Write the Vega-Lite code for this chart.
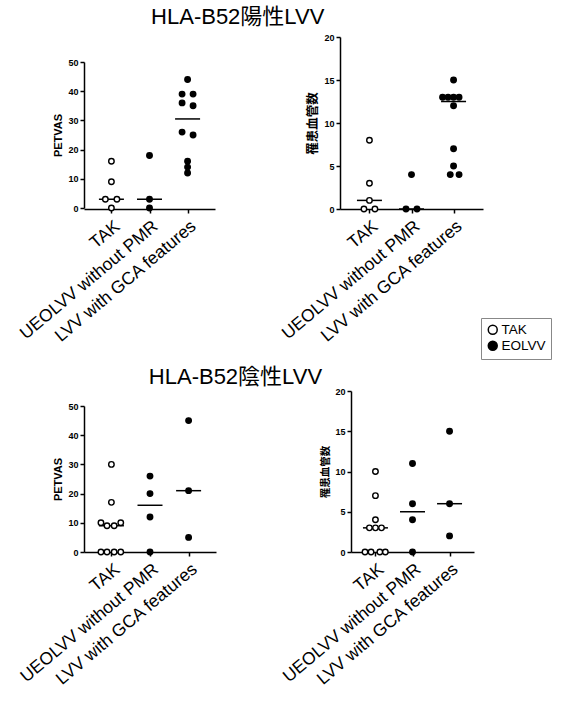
{
  "$schema": "https://vega.github.io/schema/vega-lite/v6.json",
  "padding": {"left": 16, "top": 6, "right": 5, "bottom": 5},
  "background": "white",
  "datasets": {
    "p1": [
      {"group": "TAK", "type": "TAK", "value": 16, "slot": 0},
      {"group": "TAK", "type": "TAK", "value": 9, "slot": 0},
      {"group": "TAK", "type": "TAK", "value": 3, "slot": -1.1},
      {"group": "TAK", "type": "TAK", "value": 3, "slot": 1},
      {"group": "TAK", "type": "TAK", "value": 0, "slot": 0},
      {"group": "UEOLVV without PMR", "type": "EOLVV", "value": 18, "slot": 0},
      {"group": "UEOLVV without PMR", "type": "EOLVV", "value": 3, "slot": 0},
      {"group": "UEOLVV without PMR", "type": "EOLVV", "value": 0, "slot": 0},
      {"group": "LVV with GCA features", "type": "EOLVV", "value": 44, "slot": 0},
      {"group": "LVV with GCA features", "type": "EOLVV", "value": 39, "slot": -1},
      {"group": "LVV with GCA features", "type": "EOLVV", "value": 39, "slot": 1},
      {"group": "LVV with GCA features", "type": "EOLVV", "value": 36, "slot": -1},
      {"group": "LVV with GCA features", "type": "EOLVV", "value": 35, "slot": 1},
      {"group": "LVV with GCA features", "type": "EOLVV", "value": 26, "slot": -1},
      {"group": "LVV with GCA features", "type": "EOLVV", "value": 25, "slot": 1},
      {"group": "LVV with GCA features", "type": "EOLVV", "value": 16, "slot": 0},
      {"group": "LVV with GCA features", "type": "EOLVV", "value": 14, "slot": 0},
      {"group": "LVV with GCA features", "type": "EOLVV", "value": 12, "slot": 0}
    ],
    "p2": [
      {"group": "TAK", "type": "TAK", "value": 8, "slot": 0},
      {"group": "TAK", "type": "TAK", "value": 3, "slot": 0},
      {"group": "TAK", "type": "TAK", "value": 1, "slot": 0},
      {"group": "TAK", "type": "TAK", "value": 0, "slot": -1},
      {"group": "TAK", "type": "TAK", "value": 0, "slot": 1},
      {"group": "UEOLVV without PMR", "type": "EOLVV", "value": 4, "slot": 0},
      {"group": "UEOLVV without PMR", "type": "EOLVV", "value": 0, "slot": -1},
      {"group": "UEOLVV without PMR", "type": "EOLVV", "value": 0, "slot": 1},
      {"group": "LVV with GCA features", "type": "EOLVV", "value": 15, "slot": 0},
      {"group": "LVV with GCA features", "type": "EOLVV", "value": 13, "slot": -2},
      {"group": "LVV with GCA features", "type": "EOLVV", "value": 13, "slot": -1},
      {"group": "LVV with GCA features", "type": "EOLVV", "value": 13, "slot": 0},
      {"group": "LVV with GCA features", "type": "EOLVV", "value": 13, "slot": 1},
      {"group": "LVV with GCA features", "type": "EOLVV", "value": 12, "slot": 0},
      {"group": "LVV with GCA features", "type": "EOLVV", "value": 7, "slot": 0},
      {"group": "LVV with GCA features", "type": "EOLVV", "value": 5, "slot": 0},
      {"group": "LVV with GCA features", "type": "EOLVV", "value": 4, "slot": -0.6},
      {"group": "LVV with GCA features", "type": "EOLVV", "value": 4, "slot": 1}
    ],
    "p3": [
      {"group": "TAK", "type": "TAK", "value": 30, "slot": 0},
      {"group": "TAK", "type": "TAK", "value": 17, "slot": 0},
      {"group": "TAK", "type": "TAK", "value": 10, "slot": -1.9},
      {"group": "TAK", "type": "TAK", "value": 9, "slot": -0.8},
      {"group": "TAK", "type": "TAK", "value": 9, "slot": 0.5},
      {"group": "TAK", "type": "TAK", "value": 10, "slot": 1.7},
      {"group": "TAK", "type": "TAK", "value": 0, "slot": -1.9},
      {"group": "TAK", "type": "TAK", "value": 0, "slot": -0.8},
      {"group": "TAK", "type": "TAK", "value": 0, "slot": 0.5},
      {"group": "TAK", "type": "TAK", "value": 0, "slot": 1.7},
      {"group": "UEOLVV without PMR", "type": "EOLVV", "value": 26, "slot": 0},
      {"group": "UEOLVV without PMR", "type": "EOLVV", "value": 20, "slot": 0},
      {"group": "UEOLVV without PMR", "type": "EOLVV", "value": 12, "slot": 0},
      {"group": "UEOLVV without PMR", "type": "EOLVV", "value": 0, "slot": 0},
      {"group": "LVV with GCA features", "type": "EOLVV", "value": 45, "slot": 0},
      {"group": "LVV with GCA features", "type": "EOLVV", "value": 21, "slot": 0},
      {"group": "LVV with GCA features", "type": "EOLVV", "value": 5, "slot": 0}
    ],
    "p4": [
      {"group": "TAK", "type": "TAK", "value": 10, "slot": 0},
      {"group": "TAK", "type": "TAK", "value": 7, "slot": 0},
      {"group": "TAK", "type": "TAK", "value": 4, "slot": 0},
      {"group": "TAK", "type": "TAK", "value": 3, "slot": -1.1},
      {"group": "TAK", "type": "TAK", "value": 3, "slot": 0},
      {"group": "TAK", "type": "TAK", "value": 3, "slot": 1.1},
      {"group": "TAK", "type": "TAK", "value": 0, "slot": -1.9},
      {"group": "TAK", "type": "TAK", "value": 0, "slot": -0.8},
      {"group": "TAK", "type": "TAK", "value": 0, "slot": 0.8},
      {"group": "TAK", "type": "TAK", "value": 0, "slot": 1.8},
      {"group": "UEOLVV without PMR", "type": "EOLVV", "value": 11, "slot": 0},
      {"group": "UEOLVV without PMR", "type": "EOLVV", "value": 6, "slot": 0},
      {"group": "UEOLVV without PMR", "type": "EOLVV", "value": 4, "slot": 0},
      {"group": "UEOLVV without PMR", "type": "EOLVV", "value": 0, "slot": 0},
      {"group": "LVV with GCA features", "type": "EOLVV", "value": 15, "slot": 0},
      {"group": "LVV with GCA features", "type": "EOLVV", "value": 6, "slot": 0},
      {"group": "LVV with GCA features", "type": "EOLVV", "value": 2, "slot": 0}
    ]
  },
  "vconcat": [
    {
      "title": {"text": "HLA-B52陽性LVV", "offset": 4, "dx": -12},
      "spacing": 63,
      "hconcat": [
        {
          "width": 131, "height": 172,
          "data": {"name": "p1"},
          "encoding": {
            "x": {"field": "group", "type": "nominal", "sort": ["TAK", "UEOLVV without PMR", "LVV with GCA features"], "scale": {"type": "point", "padding": 0.72}, "axis": {"title": null}}
          },
          "layer": [
            {"mark": {"type": "tick", "color": "black", "size": 25, "thickness": 1.5},
             "encoding": {"y": {"aggregate": "median", "field": "value", "type": "quantitative", "scale": {"domain": [0, 50], "range": [171, 25]}, "axis": {"title": "PETVAS", "values": [0, 10, 20, 30, 40, 50]}}}},
            {"mark": {"type": "point", "shape": "circle", "filled": true, "size": 30, "stroke": "black", "strokeWidth": 1.4, "opacity": 1},
             "encoding": {
               "y": {"field": "value", "type": "quantitative", "scale": {"domain": [0, 50], "range": [171, 25]}, "axis": {"title": "PETVAS", "values": [0, 10, 20, 30, 40, 50]}},
               "xOffset": {"field": "slot", "type": "quantitative", "scale": {"domain": [-3, 3], "range": [-16.5, 16.5]}},
               "fill": {"field": "type", "type": "nominal", "scale": {"domain": ["TAK", "EOLVV"], "range": ["white", "black"]}}
             }}
          ]
        },
        {
          "width": 143, "height": 172,
          "data": {"name": "p2"},
          "encoding": {
            "x": {"field": "group", "type": "nominal", "sort": ["TAK", "UEOLVV without PMR", "LVV with GCA features"], "scale": {"type": "point", "padding": 0.7}, "axis": {"title": null}}
          },
          "layer": [
            {"mark": {"type": "tick", "color": "black", "size": 25, "thickness": 1.5},
             "encoding": {"y": {"aggregate": "median", "field": "value", "type": "quantitative", "scale": {"domain": [0, 20]}, "axis": {"title": "罹患血管数", "titleFontSize": 12.5, "values": [0, 5, 10, 15, 20]}}}},
            {"mark": {"type": "point", "shape": "circle", "filled": true, "size": 30, "stroke": "black", "strokeWidth": 1.4, "opacity": 1},
             "encoding": {
               "y": {"field": "value", "type": "quantitative", "scale": {"domain": [0, 20]}, "axis": {"title": "罹患血管数", "titleFontSize": 12.5, "values": [0, 5, 10, 15, 20]}},
               "xOffset": {"field": "slot", "type": "quantitative", "scale": {"domain": [-3, 3], "range": [-16.5, 16.5]}},
               "fill": {"field": "type", "type": "nominal", "scale": {"domain": ["TAK", "EOLVV"], "range": ["white", "black"]}}
             }}
          ]
        }
      ]
    },
    {
      "title": {"text": "HLA-B52陰性LVV", "offset": -2, "dx": -10},
      "spacing": 63,
      "hconcat": [
        {
          "width": 132, "height": 161,
          "data": {"name": "p3"},
          "encoding": {
            "x": {"field": "group", "type": "nominal", "sort": ["TAK", "UEOLVV without PMR", "LVV with GCA features"], "scale": {"type": "point", "padding": 0.71}, "axis": {"title": null}}
          },
          "layer": [
            {"mark": {"type": "tick", "color": "black", "size": 25, "thickness": 1.5},
             "encoding": {"y": {"aggregate": "median", "field": "value", "type": "quantitative", "scale": {"domain": [0, 50], "range": [161, 15]}, "axis": {"title": "PETVAS", "values": [0, 10, 20, 30, 40, 50]}}}},
            {"mark": {"type": "point", "shape": "circle", "filled": true, "size": 30, "stroke": "black", "strokeWidth": 1.4, "opacity": 1},
             "encoding": {
               "y": {"field": "value", "type": "quantitative", "scale": {"domain": [0, 50], "range": [161, 15]}, "axis": {"title": "PETVAS", "values": [0, 10, 20, 30, 40, 50]}},
               "xOffset": {"field": "slot", "type": "quantitative", "scale": {"domain": [-3, 3], "range": [-16.5, 16.5]}},
               "fill": {"field": "type", "type": "nominal", "scale": {"domain": ["TAK", "EOLVV"], "range": ["white", "black"]}}
             }}
          ]
        },
        {
          "width": 123, "height": 161,
          "data": {"name": "p4"},
          "encoding": {
            "x": {"field": "group", "type": "nominal", "sort": ["TAK", "UEOLVV without PMR", "LVV with GCA features"], "scale": {"type": "point", "padding": 0.66}, "axis": {"title": null}}
          },
          "layer": [
            {"mark": {"type": "tick", "color": "black", "size": 25, "thickness": 1.5},
             "encoding": {"y": {"aggregate": "median", "field": "value", "type": "quantitative", "scale": {"domain": [0, 20]}, "axis": {"title": "罹患血管数", "titleFontSize": 10.5, "values": [0, 5, 10, 15, 20]}}}},
            {"mark": {"type": "point", "shape": "circle", "filled": true, "size": 30, "stroke": "black", "strokeWidth": 1.4, "opacity": 1},
             "encoding": {
               "y": {"field": "value", "type": "quantitative", "scale": {"domain": [0, 20]}, "axis": {"title": "罹患血管数", "titleFontSize": 10.5, "values": [0, 5, 10, 15, 20]}},
               "xOffset": {"field": "slot", "type": "quantitative", "scale": {"domain": [-3, 3], "range": [-16.5, 16.5]}},
               "fill": {"field": "type", "type": "nominal", "scale": {"domain": ["TAK", "EOLVV"], "range": ["white", "black"]}}
             }}
          ]
        }
      ]
    }
  ],
  "spacing": 20,
  "resolve": {"legend": {"fill": "shared"}},
  "config": {
    "font": "Liberation Sans, Noto Sans CJK JP, sans-serif",
    "view": {"stroke": null},
    "title": {"fontSize": 22, "fontWeight": "normal", "color": "black", "anchor": "middle", "font": "Liberation Sans, Noto Sans CJK JP, sans-serif"},
    "axis": {"domainColor": "black", "tickColor": "black", "domainWidth": 1.5, "tickWidth": 1.5, "labelColor": "black", "titleColor": "black", "grid": false},
    "axisY": {"labelFontSize": 9, "labelFontWeight": "bold", "tickSize": 4, "labelPadding": 2, "titleFontWeight": "bold", "titleFontSize": 11, "titlePadding": 4},
    "axisX": {"labelAngle": -40, "labelFontSize": 17.5, "tickSize": 4, "labelPadding": 4},
    "legend": {"orient": "none", "legendX": 397, "legendY": 281, "title": null, "strokeColor": "#888", "padding": 5, "labelFontSize": 13.5, "labelColor": "black", "symbolType": "circle", "symbolSize": 80, "symbolStrokeColor": "black", "symbolStrokeWidth": 1.5, "rowPadding": 0, "labelOffset": 2}
  }
}
